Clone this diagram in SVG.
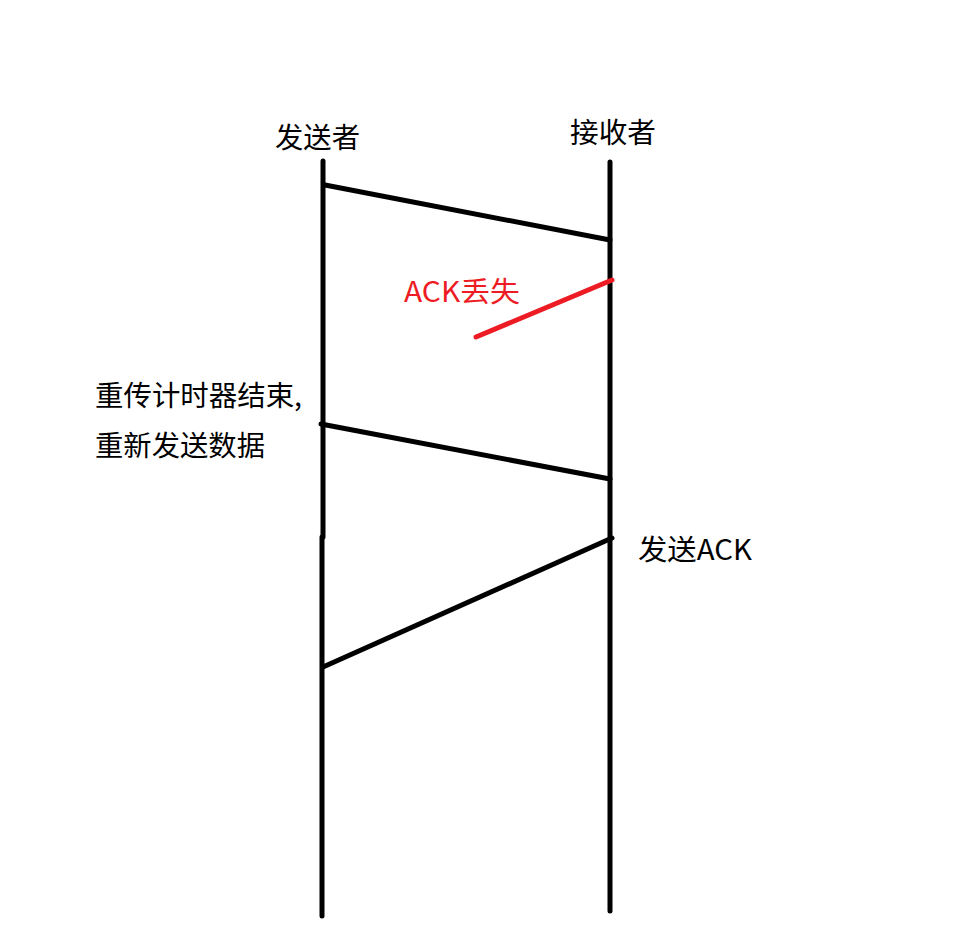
<svg xmlns="http://www.w3.org/2000/svg" width="963" height="942" viewBox="0 0 963 942">
<style>
.t{font-family:"Noto Sans CJK SC","Microsoft YaHei",sans-serif;font-size:28px;fill:#000}
.r{fill:#ED1C24}
.l{stroke:#000;stroke-width:5;fill:none;stroke-linecap:round}
.lr{stroke:#ED1C24}
</style>
<rect width="963" height="942" fill="#fff"/>
<g id="sender">
<text class="t" x="275" y="148" textLength="85" lengthAdjust="spacingAndGlyphs">发送者</text>
<line class="l" x1="323" y1="161" x2="323" y2="537" stroke-linecap="butt"/>
<line class="l" x1="322" y1="537" x2="322" y2="916" stroke-linecap="butt"/>
</g>
<g id="receiver">
<text class="t" x="570" y="143" textLength="86" lengthAdjust="spacingAndGlyphs">接收者</text>
<line class="l" x1="610" y1="162" x2="610" y2="911" stroke-linecap="butt"/>
</g>
<g id="labels">
<text class="t r" x="404" y="302" textLength="116" lengthAdjust="spacingAndGlyphs">ACK丢失</text>
<text class="t" x="95" y="406" textLength="207" lengthAdjust="spacingAndGlyphs">重传计时器结束,</text>
<text class="t" x="95" y="456" textLength="170" lengthAdjust="spacingAndGlyphs">重新发送数据</text>
<text class="t" x="638" y="560" textLength="114" lengthAdjust="spacingAndGlyphs">发送ACK</text>
</g>
<g id="connectors">
<line class="l" x1="325" y1="185" x2="610" y2="240"/>
<line class="l lr" x1="476" y1="337" x2="612" y2="280"/>
<line class="l" x1="321" y1="424" x2="610" y2="479"/>
<line class="l" x1="612" y1="538" x2="323" y2="667"/>
</g>
</svg>
